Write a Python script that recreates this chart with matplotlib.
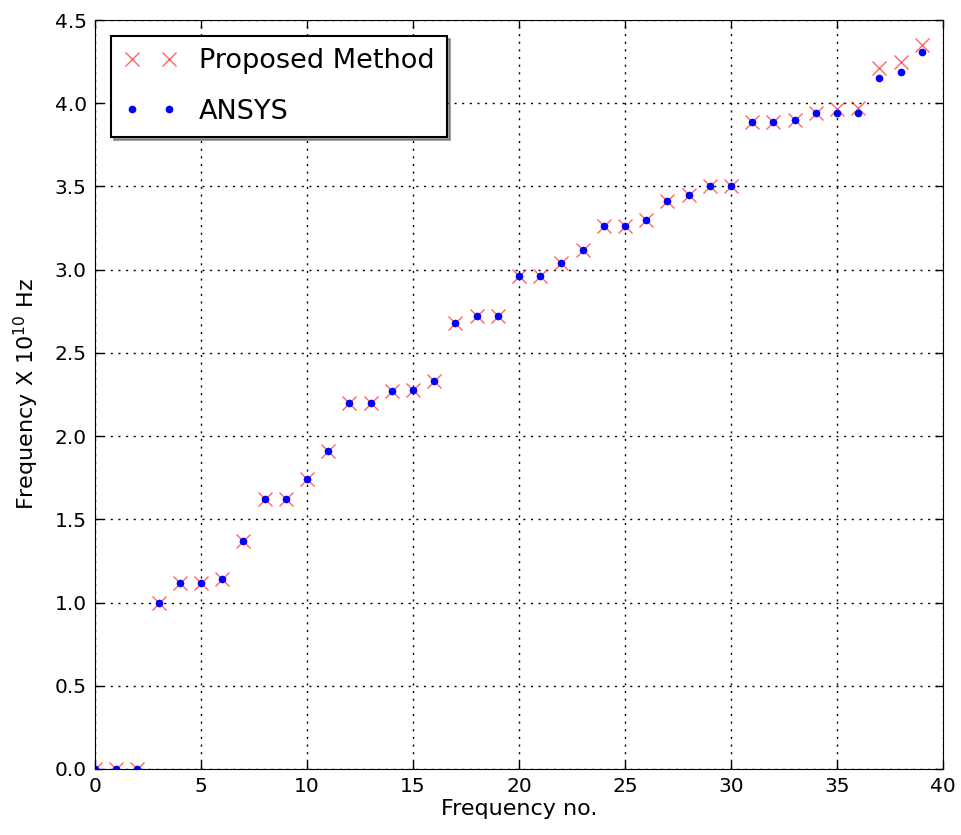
import numpy as np
import matplotlib.pyplot as plt

# frequency index
freq_no = np.arange(40)

# proposed method values (x 1e10 Hz)
proposed = [0.0, 0.0, 0.0, 1.00, 1.12, 1.12, 1.14, 1.37, 1.62, 1.62,
            1.74, 1.91, 2.20, 2.20, 2.27, 2.28, 2.33, 2.68, 2.72, 2.72,
            2.96, 2.96, 3.04, 3.12, 3.26, 3.26, 3.30, 3.41, 3.45, 3.50,
            3.50, 3.89, 3.89, 3.90, 3.94, 3.965, 3.97, 4.21, 4.25, 4.35]

# ANSYS values (x 1e10 Hz)
ansys = [0.0, 0.0, 0.0, 1.00, 1.12, 1.12, 1.14, 1.37, 1.62, 1.62,
         1.74, 1.91, 2.20, 2.20, 2.27, 2.28, 2.33, 2.68, 2.72, 2.72,
         2.96, 2.96, 3.04, 3.12, 3.26, 3.26, 3.30, 3.41, 3.45, 3.50,
         3.50, 3.89, 3.89, 3.90, 3.94, 3.94, 3.94, 4.15, 4.19, 4.31]

plt.rcParams['xtick.direction'] = 'in'
plt.rcParams['ytick.direction'] = 'in'
plt.rcParams['xtick.top'] = True
plt.rcParams['ytick.right'] = True

fig = plt.figure(figsize=(9.61, 8.35), dpi=100)
ax = fig.add_axes([95/961, 1 - 769/835, (943-95)/961, (769-20)/835])

ax.plot(freq_no, proposed, 'x', color='red', alpha=0.6, markersize=9.5, label='Proposed Method')
ax.plot(freq_no, ansys, '.', color='blue', markersize=9, label='ANSYS')

ax.set_xlim(0, 40)
ax.set_ylim(0, 4.5)
ax.set_xticks(np.arange(0, 41, 5))
ax.set_yticks(np.arange(0, 4.51, 0.5))
ax.yaxis.set_major_formatter(plt.FormatStrFormatter('%.1f'))
ax.grid(True, color='black', linestyle=(0, (1.5, 4)), linewidth=1)
ax.tick_params(length=6, width=1, labelsize=14.5, pad=6)

ax.set_xlabel('Frequency no.', fontsize=16, labelpad=2)
ax.set_ylabel(r'Frequency X $10^{10}$ Hz', fontsize=16, labelpad=10)

leg = ax.legend(loc='upper left', numpoints=2, fontsize=19.5, shadow=True, fancybox=False,
                framealpha=1, edgecolor='black', borderpad=0.45, labelspacing=0.9,
                handlelength=2.0, handletextpad=0.8, borderaxespad=0.6)
leg.get_frame().set_linewidth(1.5)

fig.savefig('out.png', dpi=100)
